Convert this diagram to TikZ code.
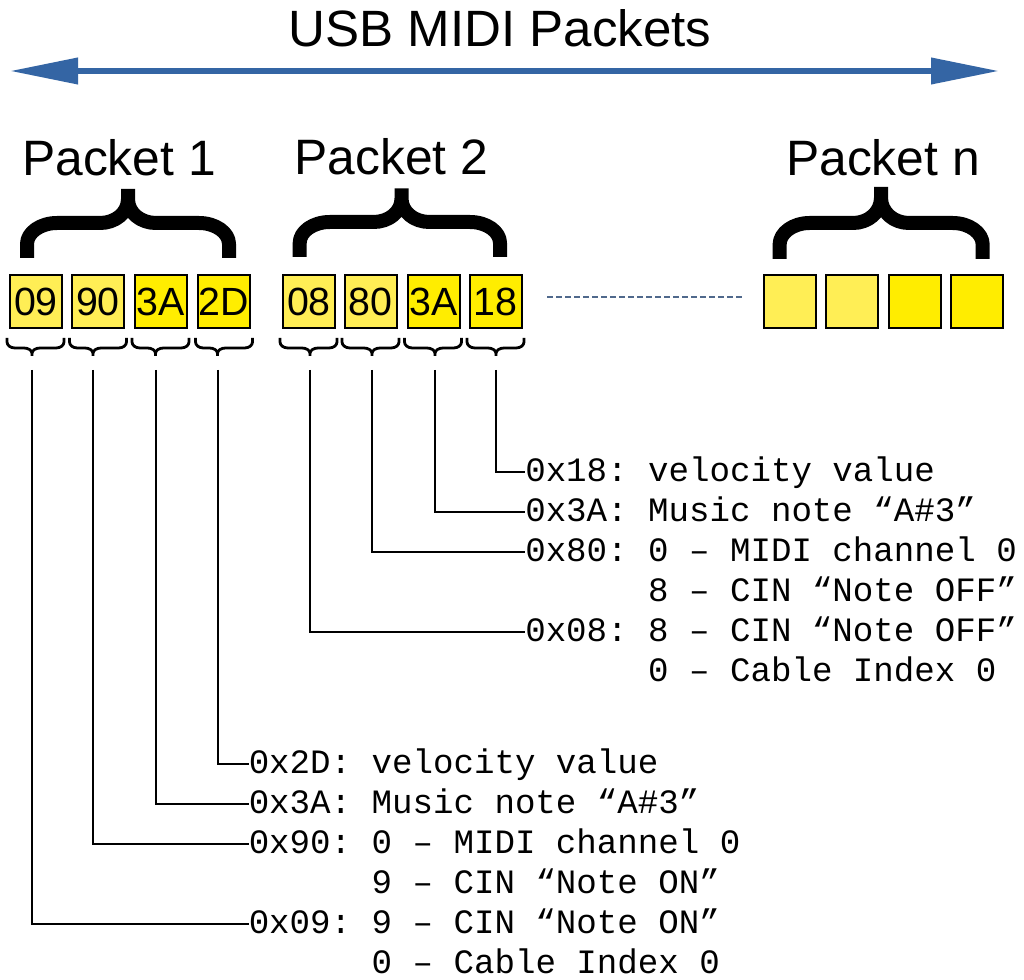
\documentclass[tikz,border=0pt]{standalone}
\usepackage{fontspec}
\setmainfont{Liberation Sans}
\newfontfamily\monof{Liberation Mono}
\usetikzlibrary{arrows.meta}
\definecolor{arrowblue}{RGB}{52,101,164}
\definecolor{dotblue}{RGB}{80,105,140}
\definecolor{yellowA}{RGB}{255,238,85}
\definecolor{yellowB}{RGB}{255,237,0}
% #1 style, #2 xl, #3 xr, #4 xc, #5 yb, #6 ym, #7 yt, #8 rx, #9 rm
\newcommand{\bracecurve}[9]{%
  \pgfmathsetmacro\bA{#5+0.4*(#6-#5)}%
  \pgfmathsetmacro\bAc{\bA+0.55*(#6-\bA)}%
  \pgfmathsetmacro\bLa{#2+0.45*#8}%
  \pgfmathsetmacro\bLb{#2+#8}%
  \pgfmathsetmacro\bRa{#3-0.45*#8}%
  \pgfmathsetmacro\bRb{#3-#8}%
  \pgfmathsetmacro\bMa{#4-#9}%
  \pgfmathsetmacro\bMb{#4-0.45*#9}%
  \pgfmathsetmacro\bNa{#4+#9}%
  \pgfmathsetmacro\bNb{#4+0.45*#9}%
  \pgfmathsetmacro\bTa{#6+0.3*(#7-#6)}%
  \pgfmathsetmacro\bTb{#6+0.7*(#7-#6)}%
  \draw[#1] (#2,#5) -- (#2,\bA) .. controls (#2,\bAc) and (\bLa,#6) .. (\bLb,#6) -- (\bMa,#6) .. controls (\bMb,#6) and (#4,\bTa) .. (#4,\bTb) -- (#4,#7)
            (#3,#5) -- (#3,\bA) .. controls (#3,\bAc) and (\bRa,#6) .. (\bRb,#6) -- (\bNa,#6) .. controls (\bNb,#6) and (#4,\bTa) .. (#4,\bTb) -- (#4,#7);
}
\tikzset{
  bytebox/.style={draw=black, line width=1.5pt, minimum width=39pt, minimum height=39.75pt, inner sep=0pt,
    font=\fontsize{29.5pt}{30pt}\selectfont},
  bigbrace/.style={line width=10.5pt, line cap=butt, line join=round, black},
  smallbrace/.style={line width=2.1pt, line cap=butt, line join=round, black},
  plabel/.style={anchor=base, inner sep=0pt, font=\fontsize{37.3pt}{40pt}\selectfont},
  mono/.style={anchor=base west, inner sep=0pt, text height=18pt, text depth=4.5pt,
    font=\monof\frenchspacing\fontsize{25.6pt}{30pt}\selectfont},
  conn/.style={line width=1.5pt, black},
}
\begin{document}
\begin{tikzpicture}[x=0.75pt, y=-0.75pt]
\useasboundingbox (0,0) rectangle (1024,980);
\fill[white] (0,0) rectangle (1024,980);

% title and arrow
\node[anchor=base, inner sep=0pt, font=\fontsize{38.3pt}{40pt}\selectfont] (title) at (500,47) {USB MIDI Packets};
\coordinate (aL) at (10,71);
\coordinate (aR) at (999,71);
\draw[arrowblue, line width=4.5pt, {Triangle[length=51pt,width=19pt]}-{Triangle[length=51pt,width=19pt]}] (aL) -- (aR);

% packet labels
\node[plabel] (lab1) at (119,176) {Packet 1};
\node[plabel] (lab2) at (391.5,175) {Packet 2};
\node[plabel] (labn) at (883,176) {Packet n};

% big braces
\bracecurve{bigbrace}{27}{229}{128}{258}{223}{189}{30}{28}
\bracecurve{bigbrace}{299.7}{500}{401.5}{257}{222}{188.5}{30}{28}
\bracecurve{bigbrace}{779.6}{982.7}{881}{259}{223}{187}{30}{28}

% byte boxes
\node[bytebox, fill=yellowA] (b1) at (36,301.5) {09};
\node[bytebox, fill=yellowA] (b2) at (98,301.5) {90};
\node[bytebox, fill=yellowB] (b3) at (160.5,301.5) {3A};
\node[bytebox, fill=yellowB] (b4) at (224,301.5) {2D};
\node[bytebox, fill=yellowA] (b5) at (309,301.5) {08};
\node[bytebox, fill=yellowA] (b6) at (370.5,301.5) {80};
\node[bytebox, fill=yellowB] (b7) at (433.5,301.5) {3A};
\node[bytebox, fill=yellowB] (b8) at (495.5,301.5) {18};
\node[bytebox, fill=yellowA] (n1) at (790,302) {};
\node[bytebox, fill=yellowA] (n2) at (852,302) {};
\node[bytebox, fill=yellowB] (n3) at (914.5,302) {};
\node[bytebox, fill=yellowB] (n4) at (977,302) {};

% dotted continuation
\coordinate (d1) at (547,297);
\coordinate (d2) at (743,297);
\draw[dotblue, line width=1.5pt, dash pattern=on 4.5pt off 2.25pt] (d1) -- (d2);

% small braces: box left, line x
\foreach \bx/\lx in {9/32,71.5/93,134/155.5,197.5/217.5,282/310,344/372,406.5/435,469/496} {
  \pgfmathsetmacro\sxl{\bx-2}
  \pgfmathsetmacro\sxr{\bx+55}
  \bracecurve{smallbrace}{\sxl}{\sxr}{\lx}{338}{348}{356}{8}{8}
}

% line tops
\coordinate (c1) at (32,370);
\coordinate (c2) at (93,370);
\coordinate (c3) at (155.5,370);
\coordinate (c4) at (217.5,370);
\coordinate (c5) at (310,370);
\coordinate (c6) at (372,370);
\coordinate (c7) at (435,370);
\coordinate (c8) at (496,370);

% packet 2 descriptions
\node[mono] (p2a) at (525,481) {0x18: velocity value};
\node[mono] (p2b) at (525,521) {0x3A: Music note “A\#3”};
\node[mono] (p2c) at (525,561) {0x80: 0 – MIDI channel 0};
\node[mono] (p2c2) at (525,601) {\phantom{0x80: }8 – CIN “Note OFF”};
\node[mono] (p2d) at (525,641) {0x08: 8 – CIN “Note OFF”};
\node[mono] (p2d2) at (525,681) {\phantom{0x08: }0 – Cable Index 0};

% packet 1 descriptions
\node[mono] (p1a) at (248.5,773) {0x2D: velocity value};
\node[mono] (p1b) at (248.5,813) {0x3A: Music note “A\#3”};
\node[mono] (p1c) at (248.5,853) {0x90: 0 – MIDI channel 0};
\node[mono] (p1c2) at (248.5,893) {\phantom{0x90: }9 – CIN “Note ON”};
\node[mono] (p1d) at (248.5,933) {0x09: 9 – CIN “Note ON”};
\node[mono] (p1d2) at (248.5,973) {\phantom{0x09: }0 – Cable Index 0};

% connectors
\draw[conn] (c8) |- (p2a.west);
\draw[conn] (c7) |- (p2b.west);
\draw[conn] (c6) |- (p2c.west);
\draw[conn] (c5) |- (p2d.west);
\draw[conn] (c4) |- (p1a.west);
\draw[conn] (c3) |- (p1b.west);
\draw[conn] (c2) |- (p1c.west);
\draw[conn] (c1) |- (p1d.west);
\end{tikzpicture}
\end{document}
